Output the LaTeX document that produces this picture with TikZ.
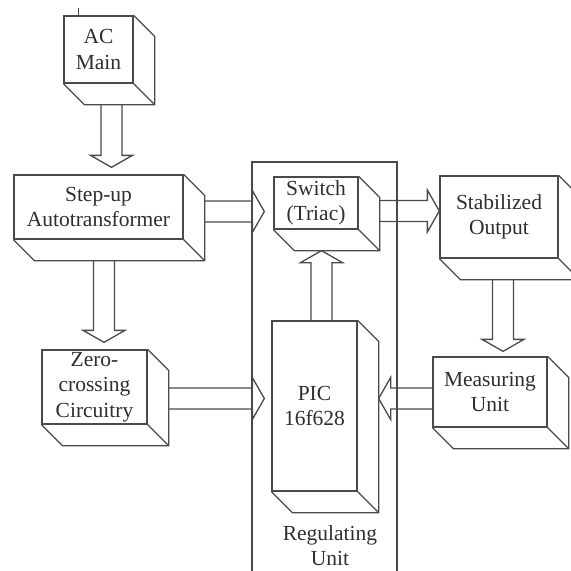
\documentclass[tikz,border=0pt]{standalone}
\usepackage{fontspec}
\setmainfont{Liberation Serif}
\usetikzlibrary{calc}
\definecolor{ink}{HTML}{4A4A4A}
\definecolor{txt}{HTML}{2E2E2E}

\tikzset{
  unit/.style={draw=ink, line width=1.3pt, rectangle, inner sep=0pt,
    align=center, text=txt, font=\fontsize{21.5}{25.5}\selectfont},
  edge/.style={draw=ink, line width=1.3pt, line join=miter},
  caption/.style={align=center, text=txt, font=\fontsize{21.5}{25.5}\selectfont},
}

% extrusion of a block: right face and bottom face, depth 21 down-right
\newcommand\cubeface[1]{%
  \draw[edge] (#1.north east) -- ++(21,21) |- ($(#1.south west)+(21,21)$) -- (#1.south west)
              (#1.south east) -- ++(21,21);}

% hollow double-line arrow from a start point to a tip point
\newcommand\blockarrow[2]{%
  \coordinate (ba-s) at #1;
  \coordinate (ba-t) at #2;
  \coordinate (ba-b) at ($(ba-t)!12pt!(ba-s)$);
  \draw[edge] ($(ba-s)!10.5pt!90:(ba-t)$) -- ($(ba-b)!10.5pt!90:(ba-t)$)
    -- ($(ba-b)!21pt!90:(ba-t)$) -- (ba-t) -- ($(ba-b)!21pt!-90:(ba-t)$)
    -- ($(ba-b)!10.5pt!-90:(ba-t)$) -- ($(ba-s)!10.5pt!-90:(ba-t)$);}

\begin{document}
\begin{tikzpicture}[x=1pt,y=-1pt]
  \useasboundingbox (0,0) rectangle (571,571);
  \clip (0,0) rectangle (571,571);

  % regulating unit frame
  \node[draw=ink, line width=1.3pt, rectangle, inner sep=0pt,
        minimum width=145pt, minimum height=440pt] (reg) at (324.5,382) {};
  \node[caption] (reglabel) at (330,545.5) {Regulating\\Unit};

  % blocks
  \node[unit, minimum width=69pt,  minimum height=67pt]  (ac)     at (98.5,49.5) {AC\\Main};
  \node[unit, minimum width=169pt, minimum height=64pt]  (step)   at (98.5,207)  {Step-up\\Autotransformer};
  \node[unit, minimum width=105pt, minimum height=74pt]  (zero)   at (94.5,387)  {Zero-\\crossing\\Circuitry};
  \node[unit, minimum width=84pt,  minimum height=52pt]  (switch) at (316,203)   {Switch\\(Triac)};
  \node[unit, minimum width=85pt,  minimum height=170pt] (pic)    at (314.5,406) {PIC\\16f628};
  \node[unit, minimum width=118pt, minimum height=82pt]  (stab)   at (499,217)   {Stabilized\\Output};
  \node[unit, minimum width=114pt, minimum height=70pt]  (meas)   at (490,392)   {Measuring\\Unit};

  \foreach \n in {ac,step,zero,switch,pic,stab,meas} {\cubeface{\n}}

  % small tick above the mains block
  \draw[edge] ($(ac.north west)+(15,-7)$) -- ($(ac.north west)+(15,0)$);

  % signal flow
  \blockarrow{($(ac.south)+(13,21)$)}{($(step.north)+(13,-7)$)}
  \blockarrow{($(step.east)+(21,4.5)$)}{($(switch.west)+(-9,8.5)$)}
  \blockarrow{($(switch.east)+(21,8)$)}{($(stab.west)+(0,-6)$)}
  \blockarrow{($(stab.south)+(4,21)$)}{($(meas.north)+(13,-5)$)}
  \blockarrow{($(meas.west)+(0,6.5)$)}{($(pic.east)+(21,-7.5)$)}
  \blockarrow{($(step.south)+(5.5,21)$)}{($(zero.north)+(9.5,-7)$)}
  \blockarrow{($(zero.east)+(21,11.5)$)}{($(pic.west)+(-7,-7.5)$)}
  \blockarrow{($(pic.north)+(7,0)$)}{($(switch.south)+(5.5,21)$)}
\end{tikzpicture}
\end{document}
